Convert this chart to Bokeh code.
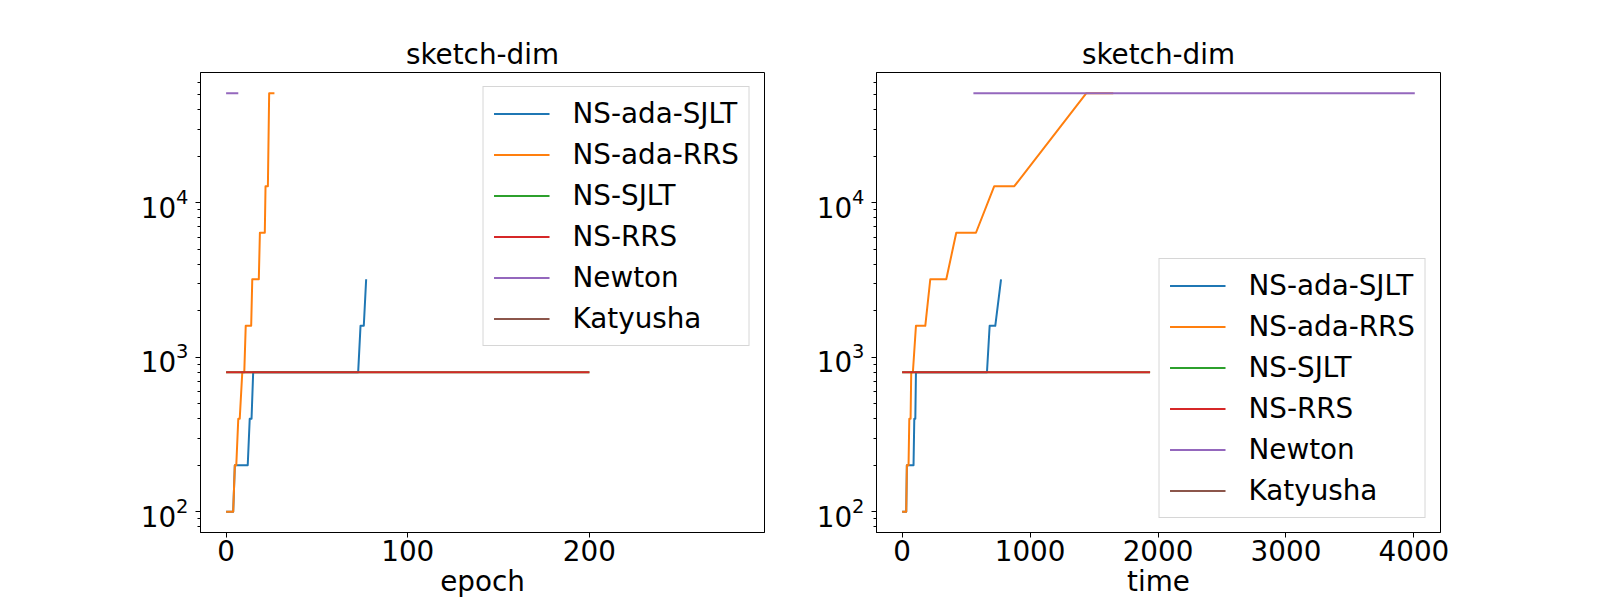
from bokeh.plotting import figure
from bokeh.models import Range1d, FixedTicker, Legend, LegendItem, LogTicker
from bokeh.layouts import row
from bokeh.embed import file_html
from bokeh.resources import INLINE

# ---------------- data ----------------
series_names = ["NS-ada-SJLT", "NS-ada-RRS", "NS-SJLT", "NS-RRS", "Newton", "Katyusha"]
series_colors = ["#1f77b4", "#ff7f0e", "#2ca02c", "#d62728", "#9467bd", "#8c564b"]

ada_sjlt_epoch = [0, 3.9, 4.8, 11.9, 13.0, 14.0, 14.9, 72.7, 74.0, 75.8, 77.1]
ada_sjlt_time = [0, 32, 37, 89, 95, 103, 108, 663, 684, 728, 773]
ada_sjlt_dim = [100, 100, 200, 200, 400, 400, 800, 800, 1600, 1600, 3200]

ada_rrs_epoch = [0, 3.9, 4.8, 5.6, 6.7, 7.5, 8.9, 10.0, 10.8, 13.8, 14.4, 18.0, 18.6, 21.3, 21.7, 23.0, 23.7, 26.6]
ada_rrs_time = [0, 32, 37, 50, 56, 66, 71, 84, 108, 181, 220, 345, 423, 577, 720, 877, 1440, 1650]
ada_rrs_dim = [100, 100, 200, 200, 400, 400, 800, 800, 1600, 1600, 3200, 3200, 6400, 6400, 12800, 12800, 51200, 51200]

sjlt_epoch = [0, 200]
sjlt_time = [0, 1938]
sjlt_dim = [800, 800]

rrs_epoch = [0, 200]
rrs_time = [0, 1938]
rrs_dim = [800, 800]

newton_epoch = [0, 6.7]
newton_time = [557, 4007]
newton_dim = [51200, 51200]

# Katyusha has no visible values in the reference (legend entry only)
katyusha_epoch = [0, 1]
katyusha_time = [0, 1]
katyusha_dim = [float("nan"), float("nan")]

epoch_ticks = [0, 100, 200]
time_ticks = [0, 1000, 2000, 3000, 4000]
title_text = "sketch-dim"

FONT = "DejaVu Sans"
FS = "27.8px"


def make_fig(xr, xticks, xlabel, xs, legend_loc, b_left, b_right, width):
    p = figure(width=width, height=600,
               x_range=Range1d(*xr), y_range=Range1d(73.5, 69700),
               y_axis_type="log", output_backend="svg", toolbar_location=None,
               min_border_left=b_left, min_border_right=b_right,
               min_border_top=72, min_border_bottom=66, title=title_text)
    p.background_fill_color = "white"
    p.border_fill_color = "white"
    p.outline_line_color = "black"
    p.outline_line_width = 1
    p.grid.visible = False

    p.title.text_font = FONT
    p.title.text_font_size = FS
    p.title.text_font_style = "normal"
    p.title.text_color = "black"
    p.title.align = "center"
    p.title.standoff = 4

    for ax in (p.xaxis[0], p.yaxis[0]):
        ax.major_label_text_font = FONT
        ax.major_label_text_font_size = FS
        ax.major_label_text_color = "black"
        ax.axis_line_color = "black"
        ax.major_tick_line_color = "black"
        ax.minor_tick_line_color = "black"
        ax.major_tick_in = 0
        ax.major_tick_out = 5
        ax.minor_tick_in = 0
        ax.minor_tick_out = 3
    p.xaxis.ticker = FixedTicker(ticks=xticks)
    p.xaxis.minor_tick_line_color = None
    p.xaxis.major_label_standoff = 2
    p.xaxis.axis_label = xlabel
    p.xaxis.axis_label_text_font = FONT
    p.xaxis.axis_label_text_font_size = FS
    p.xaxis.axis_label_text_font_style = "normal"
    p.xaxis.axis_label_text_color = "black"
    p.xaxis.axis_label_standoff = 1
    p.yaxis.ticker = LogTicker(num_minor_ticks=10)
    p.yaxis.major_label_standoff = 7

    data = [
        (ada_sjlt_dim, xs[0]),
        (ada_rrs_dim, xs[1]),
        (sjlt_dim, xs[2]),
        (rrs_dim, xs[3]),
        (newton_dim, xs[4]),
        (katyusha_dim, xs[5]),
    ]
    items = []
    for name, color, (yv, xv) in zip(series_names, series_colors, data):
        r = p.line(x=xv, y=yv, line_color=color, line_width=2, line_join="round")
        items.append(LegendItem(label=name, renderers=[r]))

    leg = Legend(items=items, location=legend_loc)
    leg.label_text_font = FONT
    leg.label_text_font_size = FS
    leg.label_text_color = "black"
    leg.glyph_width = 56
    leg.glyph_height = 31
    leg.label_height = 31
    leg.spacing = 8
    leg.label_standoff = 23
    leg.padding = 10
    leg.margin = 14
    leg.border_line_color = "#cccccc"
    leg.border_line_alpha = 0.8
    leg.border_line_width = 1
    leg.background_fill_color = "white"
    leg.background_fill_alpha = 0.8
    p.add_layout(leg)
    return p


p1 = make_fig((-14.1, 296.4), epoch_ticks, "epoch",
              [ada_sjlt_epoch, ada_rrs_epoch, sjlt_epoch, rrs_epoch, newton_epoch, katyusha_epoch],
              "top_right", 200, 10, 774)
p2 = make_fig((-200.4, 4208), time_ticks, "time",
              [ada_sjlt_time, ada_rrs_time, sjlt_time, rrs_time, newton_time, katyusha_time],
              "bottom_right", 102, 160, 826)

layout = row(p1, p2)
open("out.html", "w").write(file_html(layout, INLINE))
